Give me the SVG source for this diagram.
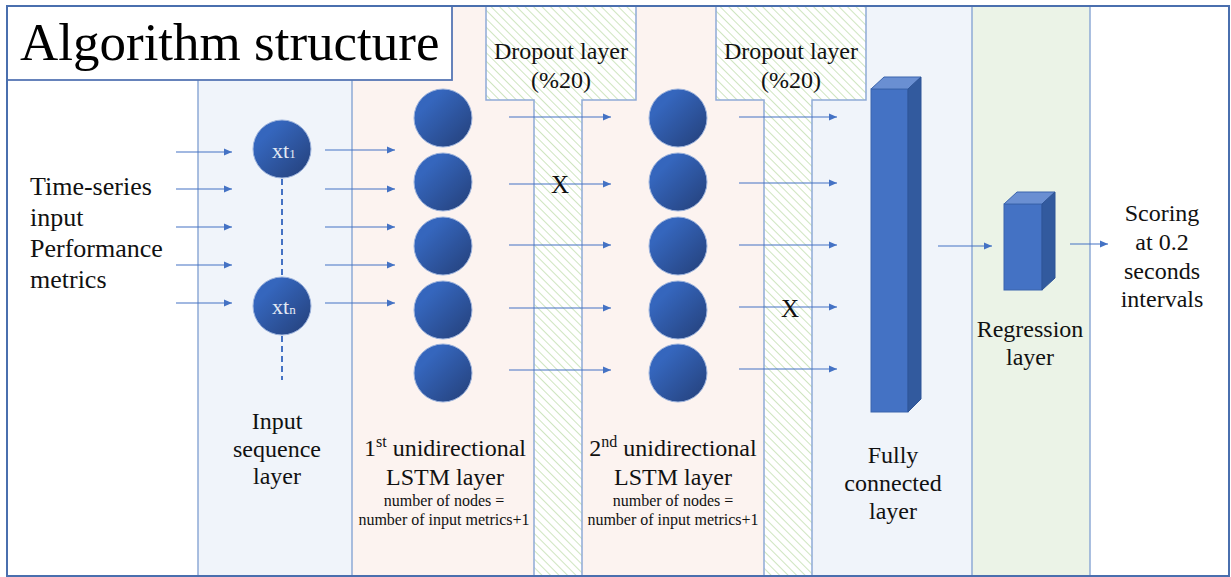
<svg xmlns="http://www.w3.org/2000/svg" width="1231" height="577" viewBox="0 0 1231 577">
  <style>
    text { font-family: 'Liberation Serif', serif; }
    .lbl { font-size: 24px; fill: #111; text-anchor: middle; }
    .small { font-size: 16px; fill: #111; text-anchor: middle; }
    .col-border { stroke: #8eaad6; stroke-width: 1.5; fill: none; }
    .arrow { stroke: #4472c4; stroke-width: 1.2; fill: none; marker-end: url(#head); }
    .node { fill: url(#ball); stroke: #9db3dc; stroke-width: 1; }
    .nodetext { fill: #e3e9f4; }
    .dash { stroke: #4472c4; stroke-width: 2; stroke-dasharray: 6 4; fill: none; }
    .drop { fill: url(#hatch); stroke: #8eaad6; stroke-width: 1.5; }
  </style>
  <defs>
    <linearGradient id="ball" x1="0" y1="0" x2="1" y2="1">
      <stop offset="0.25" stop-color="#3566bd"/>
      <stop offset="1" stop-color="#243f78"/>
    </linearGradient>
    <pattern id="hatch" width="6" height="6" patternUnits="userSpaceOnUse" patternTransform="rotate(-45)">
      <rect width="6" height="6" fill="#ffffff"/>
      <line x1="0" y1="0" x2="0" y2="6" stroke="#cfe5c0" stroke-width="2"/>
    </pattern>
    <marker id="head" markerWidth="9" markerHeight="8" refX="8.5" refY="3.75" orient="auto" markerUnits="userSpaceOnUse">
      <path d="M0,0 L8.5,3.75 L0,7.5 z" fill="#4472c4"/>
    </marker>
  </defs>

  <!-- column backgrounds -->
  <g id="background">
    <rect x="7" y="6" width="1222" height="570" fill="#ffffff"/>
    <rect x="198" y="6" width="154" height="570" fill="#f0f4fa"/>
    <rect x="352" y="6" width="460" height="570" fill="#fcf3f0"/>
    <rect x="812" y="6" width="160" height="570" fill="#f0f4fa"/>
    <rect x="972" y="6" width="118" height="570" fill="#ebf3e7"/>
    <line class="col-border" x1="198" y1="80" x2="198" y2="576"/>
    <line class="col-border" x1="352" y1="6" x2="352" y2="576"/>
    <line class="col-border" x1="972" y1="6" x2="972" y2="576"/>
    <line class="col-border" x1="1090" y1="6" x2="1090" y2="576"/>
  </g>

  <!-- dropout layers -->
  <g id="dropout1">
    <path class="drop" d="M486,6 H636 V100 H582 V576 H534 V100 H486 Z"/>
    <text class="lbl" x="561" y="59">Dropout layer</text>
    <text class="lbl" x="561" y="88">(%20)</text>
  </g>
  <g id="dropout2">
    <path class="drop" d="M716,6 H866 V100 H812 V576 H764 V100 H716 Z"/>
    <text class="lbl" x="791" y="59">Dropout layer</text>
    <text class="lbl" x="791" y="88">(%20)</text>
  </g>

  <!-- title -->
  <g id="title">
    <rect x="7" y="6" width="445" height="74" fill="#ffffff" stroke="#5676b4" stroke-width="1.8"/>
    <text x="20" y="60" font-size="53" fill="#000">Algorithm structure</text>
  </g>

  <!-- input description -->
  <g id="input-text" font-size="26" fill="#111">
    <text x="30" y="195">Time-series</text>
    <text x="30" y="226">input</text>
    <text x="30" y="257">Performance</text>
    <text x="30" y="288">metrics</text>
  </g>

  <!-- connectors -->
  <g id="connectors">
    <path class="arrow" d="M176,152 H232"/>
    <path class="arrow" d="M176,189 H232"/>
    <path class="arrow" d="M176,227 H232"/>
    <path class="arrow" d="M176,265 H232"/>
    <path class="arrow" d="M176,303 H232"/>

    <path class="arrow" d="M325,150 H395"/>
    <path class="arrow" d="M325,189 H395"/>
    <path class="arrow" d="M325,227 H395"/>
    <path class="arrow" d="M325,265 H395"/>
    <path class="arrow" d="M325,303 H395"/>

    <path class="arrow" d="M509,117 H611"/>
    <path class="arrow" d="M509,184 H611"/>
    <path class="arrow" d="M509,245 H611"/>
    <path class="arrow" d="M509,308 H611"/>
    <path class="arrow" d="M509,370 H611"/>

    <path class="arrow" d="M739,117 H837"/>
    <path class="arrow" d="M739,183 H837"/>
    <path class="arrow" d="M739,245 H837"/>
    <path class="arrow" d="M739,307 H837"/>
    <path class="arrow" d="M739,369 H837"/>

    <path class="arrow" d="M938,246 H992"/>
    <path class="arrow" d="M1070,244 H1108"/>

    <path class="dash" d="M282,179 V276"/>
    <path class="dash" d="M282,336 V380"/>
  </g>

  <!-- dropped connections -->
  <g id="drop-marks" font-size="25" fill="#111" text-anchor="middle">
    <text x="560" y="193">X</text>
    <text x="790" y="317">X</text>
  </g>

  <!-- input sequence layer -->
  <g id="input-layer">
    <circle class="node" cx="282" cy="149" r="29"/>
    <text class="nodetext" x="272" y="158" font-size="22">xt<tspan font-size="13">1</tspan></text>
    <circle class="node" cx="282" cy="306" r="29"/>
    <text class="nodetext" x="272" y="314" font-size="22">xt<tspan font-size="13">n</tspan></text>
    <text class="lbl" x="277" y="429">Input</text>
    <text class="lbl" x="277" y="457">sequence</text>
    <text class="lbl" x="277" y="484">layer</text>
  </g>

  <!-- first LSTM layer -->
  <g id="lstm1">
    <circle class="node" cx="443" cy="118" r="29"/>
    <circle class="node" cx="443" cy="182" r="29"/>
    <circle class="node" cx="443" cy="246" r="29"/>
    <circle class="node" cx="443" cy="310" r="29"/>
    <circle class="node" cx="443" cy="373" r="29"/>
    <text class="lbl" x="445" y="456">1<tspan font-size="16" dy="-9">st</tspan><tspan dy="9"> unidirectional</tspan></text>
    <text class="lbl" x="445" y="485">LSTM layer</text>
    <text class="small" x="444" y="506">number of nodes =</text>
    <text class="small" x="444" y="525">number of input metrics+1</text>
  </g>

  <!-- second LSTM layer -->
  <g id="lstm2">
    <circle class="node" cx="678" cy="118" r="29"/>
    <circle class="node" cx="678" cy="182" r="29"/>
    <circle class="node" cx="678" cy="246" r="29"/>
    <circle class="node" cx="678" cy="310" r="29"/>
    <circle class="node" cx="678" cy="373" r="29"/>
    <text class="lbl" x="673" y="456">2<tspan font-size="16" dy="-9">nd</tspan><tspan dy="9"> unidirectional</tspan></text>
    <text class="lbl" x="673" y="485">LSTM layer</text>
    <text class="small" x="673" y="506">number of nodes =</text>
    <text class="small" x="673" y="525">number of input metrics+1</text>
  </g>

  <!-- fully connected layer -->
  <g id="fully-connected">
    <rect x="871" y="89" width="37" height="323" fill="#4472c4" stroke="#3b64ad" stroke-width="1"/>
    <path d="M871,89 L884,77 H921 L908,89 Z" fill="#6a8fd2" stroke="#3b64ad" stroke-width="1"/>
    <path d="M908,89 L921,77 V399 L908,412 Z" fill="#325a9e" stroke="#2f5597" stroke-width="1"/>
    <text class="lbl" x="893" y="463">Fully</text>
    <text class="lbl" x="893" y="491">connected</text>
    <text class="lbl" x="893" y="519">layer</text>
  </g>

  <!-- regression layer -->
  <g id="regression">
    <rect x="1004" y="204" width="38" height="86" fill="#4472c4" stroke="#3b64ad" stroke-width="1"/>
    <path d="M1004,204 L1017,192 H1055 L1042,204 Z" fill="#6a8fd2" stroke="#3b64ad" stroke-width="1"/>
    <path d="M1042,204 L1055,192 V278 L1042,290 Z" fill="#325a9e" stroke="#2f5597" stroke-width="1"/>
    <text class="lbl" x="1030" y="337">Regression</text>
    <text class="lbl" x="1030" y="365">layer</text>
  </g>

  <!-- output -->
  <g id="output">
    <text class="lbl" x="1162" y="221">Scoring</text>
    <text class="lbl" x="1162" y="250">at 0.2</text>
    <text class="lbl" x="1162" y="279">seconds</text>
    <text class="lbl" x="1162" y="307">intervals</text>
  </g>

  <!-- outer frame -->
  <rect x="7" y="6" width="1222" height="570" fill="none" stroke="#4a6fae" stroke-width="2"/>
</svg>
